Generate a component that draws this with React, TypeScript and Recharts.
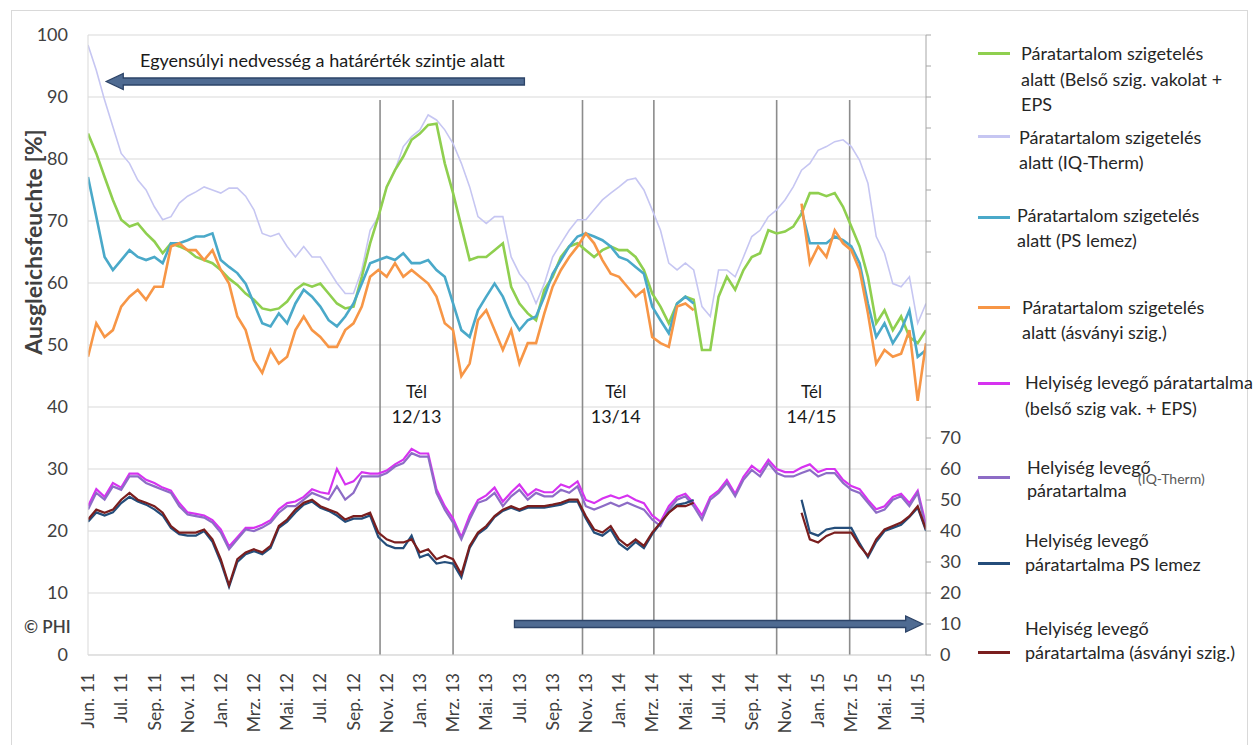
import {
  ComposedChart, Line, XAxis, YAxis, CartesianGrid, ReferenceLine,
} from 'recharts';

const FONT = 'Lato, "Open Sans", sans-serif';

// month offsets from Jun 2011 (half-month steps)
const MONTHS = [
  -1, -0.5, 0, 0.5, 1, 1.5, 2, 2.5, 3, 3.5,
  4, 4.5, 5, 5.5, 6, 6.5, 7, 7.5, 8, 8.5,
  9, 9.5, 10, 10.5, 11, 11.5, 12, 12.5, 13, 13.5,
  14, 14.5, 15, 15.5, 16, 16.5, 17, 17.5, 18, 18.5,
  19, 19.5, 20, 20.5, 21, 21.5, 22, 22.5, 23, 23.5,
  24, 24.5, 25, 25.5, 26, 26.5, 27, 27.5, 28, 28.5,
  29, 29.5, 30, 30.5, 31, 31.5, 32, 32.5, 33, 33.5,
  34, 34.5, 35, 35.5, 36, 36.5, 37, 37.5, 38, 38.5,
  39, 39.5, 40, 40.5, 41, 41.5, 42, 42.5, 43, 43.5,
  44, 44.5, 45, 45.5, 46, 46.5, 47, 47.5, 48, 48.5,
  49, 49.5,
];

const TICK_POS = [-1, 1, 3, 5, 7, 9, 11, 13, 15, 17, 19, 21, 23, 25, 27, 29, 31, 33, 35, 37, 39, 41, 43, 45, 47, 49];
const TICK_LABELS = [
  'Jun. 11', 'Jul. 11', 'Sep. 11', 'Nov. 11', 'Jan. 12', 'Mrz. 12', 'Mai. 12', 'Jul. 12', 'Sep. 12',
  'Nov. 12', 'Jan. 13', 'Mrz. 13', 'Mai. 13', 'Jul. 13', 'Sep. 13', 'Nov. 13', 'Jan. 14', 'Mrz. 14',
  'Mai. 14', 'Jul. 14', 'Sep. 14', 'Nov. 14', 'Jan. 15', 'Mrz. 15', 'Mai. 15', 'Jul. 15',
];
const LEFT_TICKS = [0, 10, 20, 30, 40, 50, 60, 70, 80, 90, 100];
const RIGHT_TICKS = [0, 10, 20, 30, 40, 50, 60, 70, 80, 90, 100, 110, 120, 130, 140, 150, 160, 170, 180, 190, 200];

// start / end of the heating seasons (vertical markers)
const WINTER_LINES = [16.6, 21.0, 28.8, 33.1, 40.5, 44.9];
const WINTER_LABELS = [
  { t: 18.8, name: 'Tél', years: '12/13' },
  { t: 30.8, name: 'Tél', years: '13/14' },
  { t: 42.6, name: 'Tél', years: '14/15' },
];

// moisture below the insulation, left axis [%]
const EPS_WALL = [
  84.1, 80.9, 77.1, 73.4, 70.2, 69.1, 69.6, 68, 66.7, 64.8,
  66.4, 65.9, 65.3, 64.2, 63.7, 63.2, 62.1, 60.7, 59.7, 58.3,
  57.3, 55.9, 55.6, 55.9, 57, 58.9, 59.9, 59.4, 59.9, 58.3,
  56.7, 55.9, 56.2, 61, 66.4, 70.7, 75.5, 78.2, 80.4, 83.1,
  84.1, 85.5, 85.7, 79.3, 74.5, 69.1, 63.7, 64.2, 64.2, 65.3,
  66.4, 59.4, 56.7, 55.1, 54, 58.9, 61, 64.2, 65.9, 66.4,
  65.3, 64.2, 65.3, 65.9, 65.3, 65.3, 64.2, 62.1, 58.3, 56.2,
  53.5, 56.7, 57.8, 57.3, 49.2, 49.2, 57.8, 61, 58.9, 62.1,
  64.2, 64.8, 68.5, 68, 68.3, 69.1, 71.2, 74.5, 74.5, 74,
  74.5, 72.3, 69.1, 65.9, 61, 53.5, 55.6, 52.4, 54.6, 51.3,
  50.3, 52.4,
];
const IQ_WALL = [
  98.4, 94.3, 89.5, 85.2, 80.9, 79.3, 76.6, 75, 72.3, 70.2,
  70.7, 72.9, 74, 74.7, 75.5, 75, 74.5, 75.3, 75.3, 74,
  71.8, 68, 67.5, 68, 65.9, 64.2, 65.9, 64.2, 64.2, 62.1,
  60, 58.3, 58.3, 62.1, 68.5, 70.7, 75.5, 78.2, 82, 83.6,
  84.7, 87.1, 86.3, 84.7, 82.5, 79.3, 75.5, 70.7, 69.6, 70.7,
  70.7, 64.2, 61.5, 59.9, 56.7, 59.9, 64.2, 66.4, 68.5, 70.2,
  70.2, 71.8, 73.4, 74.5, 75.5, 76.6, 76.9, 75, 71.8, 68.5,
  63.2, 62.1, 63.2, 62.1, 56.2, 54.6, 62.1, 62.1, 61, 64.2,
  67.5, 68.5, 70.7, 71.8, 73.4, 75.5, 78.2, 79.3, 81.4, 82,
  82.8, 83.1, 82, 79.8, 76.1, 67.5, 64.8, 59.9, 59.4, 61,
  53.5, 56.7,
];
const PS_WALL = [
  77.1, 70.7, 64.2, 62.1, 63.7, 65.3, 64.2, 63.7, 64.2, 63.2,
  66.4, 66.4, 66.9, 67.5, 67.5, 68, 63.7, 62.6, 61.6, 59.9,
  56.7, 53.5, 53, 55.1, 53.5, 56.7, 58.9, 57.8, 56.2, 54,
  53, 54.6, 56.7, 59.9, 63.2, 63.7, 64.2, 63.7, 64.8, 63.2,
  63.2, 63.7, 62.1, 61, 56.7, 52.4, 51.3, 55.6, 57.8, 59.9,
  57.8, 54.6, 52.4, 54, 54.6, 57.8, 61.5, 63.7, 65.9, 67.5,
  68, 67.5, 66.9, 65.9, 64.2, 63.7, 62.6, 61.5, 56.2, 54,
  51.9, 56.7, 57.8, 56.7, null, null, null, null, null, null,
  null, null, null, null, null, null, 71.8, 66.4, 66.4, 66.4,
  67.5, 66.9, 65.9, 63.2, 56.7, 51.3, 53.5, 50.3, 52.4, 55.6,
  48.1, 49.2,
];
const MIN_WALL = [
  48.1, 53.5, 51.3, 52.4, 56.2, 57.8, 58.9, 57.3, 59.4, 59.4,
  65.9, 66.4, 65.3, 65.3, 63.7, 65.3, 62.1, 59.9, 54.6, 52.4,
  47.6, 45.5, 49.2, 47, 48.1, 52.4, 54.6, 52.4, 51.3, 49.7,
  49.7, 52.4, 53.5, 56.2, 61, 62.1, 61, 63.2, 61, 62.1,
  61, 59.9, 57.8, 53.5, 52.4, 45, 47, 54, 55.6, 52.4,
  49.2, 52.4, 47, 50.3, 50.3, 55.1, 59.4, 62.1, 64.2, 65.9,
  68, 66.4, 63.7, 61.5, 61, 59.4, 57.8, 58.9, 51.3, 50.3,
  49.7, 56.2, 56.7, 55.6, null, null, null, null, null, null,
  null, null, null, null, null, null, 72.8, 63.2, 65.9, 64.2,
  68.5, 66.4, 65.3, 62.1, 55.1, 47, 49.2, 48.1, 48.6, 52.4,
  41, 50.3,
];

// room air humidity, right axis [%]
const EPS_ROOM = [
  48, 53.5, 51, 55.5, 54, 58.5, 58.5, 56.5, 55.5, 54,
  53, 49, 46, 45.5, 45, 43.5, 40.5, 35, 38, 41,
  41, 42, 43.5, 47, 49, 49.5, 51, 53.5, 52.5, 52,
  60, 55, 56, 59, 58.5, 58.5, 59.5, 61.5, 63, 66.5,
  65, 65, 53.5, 48, 44, 38, 45, 50, 51.5, 54,
  49.5, 52.5, 55, 51.5, 53.5, 52.5, 52.5, 55, 54, 56,
  50, 49, 50.5, 51.5, 50.5, 51.5, 50, 49, 45, 43,
  48, 51, 52, 49, 45, 51, 53, 56.5, 52, 57.5,
  61, 59, 63, 60, 59, 59, 60.5, 61.5, 59, 60,
  60, 56.5, 54.5, 53.5, 50, 47, 48, 51, 52, 49,
  53, 42,
];
const IQ_ROOM = [
  46.9, 52.3, 50.1, 54.4, 53.3, 57.6, 57.6, 55.5, 54.4, 53.3,
  52.3, 48, 45.3, 44.8, 44.3, 42.7, 39.5, 34.1, 37.3, 40.5,
  40, 41.1, 42.7, 45.9, 48, 48, 50.1, 52.3, 51.2, 50.1,
  54.4, 50.1, 52.3, 57.6, 57.6, 57.6, 58.7, 60.8, 61.9, 65.1,
  64, 64, 52.3, 46.9, 42.7, 37.3, 43.7, 49.1, 50.1, 52.3,
  48, 51.2, 53.3, 50.1, 52.3, 51.2, 51.2, 53.3, 52.3, 54.4,
  48, 46.9, 48, 49.1, 48, 49.1, 48, 46.9, 43.7, 41.6,
  46.9, 50.1, 51.2, 48, 43.7, 50.1, 52.3, 55.5, 51.2, 56.5,
  59.7, 57.6, 61.9, 58.7, 57.6, 57.6, 58.7, 59.7, 57.6, 58.7,
  58.7, 55.5, 53.3, 52.3, 49.1, 45.9, 46.9, 50.1, 51.2, 48,
  52.3, 40.5,
];
const PS_ROOM = [
  43, 46, 45, 46, 49, 51, 49.5, 48.5, 47, 45,
  41, 39, 38.5, 38.5, 40, 36.5, 30, 22, 30, 32.5,
  33.5, 32.5, 34.5, 41, 43, 46, 48.5, 49.5, 47.5, 46.5,
  45, 43, 44, 44, 45, 38, 35.5, 34.5, 34.5, 38.5,
  31.5, 32.5, 29.5, 30, 29.5, 25, 34.5, 39, 41, 44.5,
  46.5, 47.5, 46.5, 47.5, 47.5, 47.5, 48, 48.5, 49.5, 49.5,
  44, 39.5, 38.5, 40.5, 36, 34, 36.5, 34.5, 39, 42.5,
  46, 48.5, 49, 50, null, null, null, null, null, null,
  null, null, null, null, null, null, 50.1, 39.5, 38.5, 40.5,
  41, 41, 41, 36, 31.5, 36.5, 40, 41, 42, 44.5,
  47.5, 40,
];
const MIN_ROOM = [
  43.7, 46.9, 45.9, 46.9, 50.1, 52.3, 50.1, 49.1, 48, 45.9,
  41.6, 39.5, 39.5, 39.5, 40.5, 37.3, 30.9, 22.5, 30.9, 33.1,
  34.1, 33.1, 35.2, 41.6, 43.7, 46.9, 49.1, 50.1, 48, 46.9,
  45.9, 43.7, 44.8, 44.8, 45.9, 39.5, 37.3, 36.3, 36.3, 37.3,
  33.1, 34.1, 30.9, 32, 30.9, 26, 35.2, 39.5, 41.6, 44.8,
  46.9, 48, 46.9, 48, 48, 48, 48.5, 49.1, 50.1, 50.1,
  44.8, 40.5, 39.5, 41.6, 37.3, 35.2, 37.3, 35.2, 39.5, 42.7,
  45.9, 48, 48, 49.1, null, null, null, null, null, null,
  null, null, null, null, null, null, 45.9, 37.3, 36.3, 38.4,
  39.5, 39.5, 39.5, 35.2, 32, 37.3, 40.5, 41.6, 42.7, 44.8,
  48, 40.5,
];

const GREEN = '#8fcf4f';
const LAVENDER = '#c6c6f2';
const TEAL = '#4aa9c9';
const ORANGE = '#f79646';
const MAGENTA = '#d633f0';
const PURPLE = '#8d6cc6';
const NAVY = '#244d7a';
const MAROON = '#7a1e1e';

const rows = MONTHS.map((t, i) => ({
  t,
  epsWall: EPS_WALL[i], iqWall: IQ_WALL[i], psWall: PS_WALL[i], minWall: MIN_WALL[i],
  epsRoom: EPS_ROOM[i], iqRoom: IQ_ROOM[i], psRoom: PS_ROOM[i], minRoom: MIN_ROOM[i],
}));

const LEGEND = [
  { color: GREEN, lineY: 53, x: 1021, lines: [[53, 'Páratartalom szigetelés'], [79, 'alatt (Belső szig. vakolat +'], [104, 'EPS']] },
  { color: LAVENDER, lineY: 136, x: 1019, lines: [[137, 'Páratartalom szigetelés'], [162, 'alatt (IQ-Therm)']] },
  { color: TEAL, lineY: 217, x: 1017, lines: [[215, 'Páratartalom szigetelés'], [240, 'alatt (PS lemez)']] },
  { color: ORANGE, lineY: 307, x: 1022, lines: [[307, 'Páratartalom szigetelés'], [332, 'alatt (ásványi szig.)']] },
  { color: MAGENTA, lineY: 383, x: 1025, lines: [[382, 'Helyiség levegő páratartalma'], [408, '(belső szig vak. + EPS)']] },
  { color: PURPLE, lineY: 477, x: 1027, lines: [[467, 'Helyiség levegő'], [490, 'páratartalma']] },
  { color: NAVY, lineY: 563, x: 1025, lines: [[540, 'Helyiség levegő'], [564, 'páratartalma PS lemez']] },
  { color: MAROON, lineY: 652, x: 1025, lines: [[628, 'Helyiség levegő'], [652, 'páratartalma (ásványi szig.)']] },
];

function MonthTick({ x, y, payload }: any) {
  const label = TICK_LABELS[TICK_POS.indexOf(payload.value)] ?? '';
  return (
    <text x={x} y={y} transform={`rotate(-90, ${x}, ${y})`} textAnchor="end" dy="0.35em"
      fontSize={17.5} fill="#404040" fontFamily={FONT}>{label}</text>
  );
}

// block arrow drawn along a reference segment, head at the segment's end
function BlockArrow(props: any) {
  const { x1, y1, x2 } = props;
  if (x1 == null) return null;
  const dir = x2 > x1 ? 1 : -1;
  const xb = x2 - dir * 17;
  const pts = [
    [x1, y1 - 3.5], [xb, y1 - 3.5], [xb, y1 - 8], [x2, y1],
    [xb, y1 + 8], [xb, y1 + 3.5], [x1, y1 + 3.5],
  ];
  return <polygon points={pts.map(p => p.join(',')).join(' ')} fill="#4f6b92" stroke="#2d4468" strokeWidth={1.3} />;
}

const lineCommon = { type: 'linear' as const, dot: false, activeDot: false, isAnimationActive: false, connectNulls: false };

export default function App() {
  return (
    <div style={{ position: 'fixed', left: 0, top: 0, width: 1257, height: 745, background: '#fff', overflow: 'hidden', fontFamily: FONT }}>
      <div style={{ position: 'absolute', left: 11, top: 10, width: 1235, height: 760, border: '1px solid #d9d9d9' }} />

      <div style={{ position: 'absolute', left: 0, top: 0 }}>
        <ComposedChart width={1000} height={745} data={rows} margin={{ top: 35, right: 14, left: 28, bottom: 0 }}>
          <CartesianGrid yAxisId="left" vertical={false} stroke="#d9d9d9" />
          <XAxis dataKey="t" type="number" domain={[-1, 49.5]} ticks={TICK_POS} interval={0}
            tick={<MonthTick />} tickLine={false} tickSize={0} tickMargin={18} height={90}
            axisLine={{ stroke: '#d9d9d9' }} allowDataOverflow />
          <YAxis yAxisId="left" domain={[0, 100]} ticks={LEFT_TICKS} interval={0} width={60}
            tickLine={false} tickSize={0} tickMargin={20} axisLine={{ stroke: '#d9d9d9' }}
            tick={{ fontSize: 18, fill: '#404040', fontFamily: FONT }} />
          <YAxis yAxisId="right" orientation="right" domain={[0, 200]} ticks={RIGHT_TICKS} interval={0} width={60}
            tickSize={5} tickMargin={9} tickLine={{ stroke: '#a6a6a6' }} axisLine={{ stroke: '#a6a6a6' }}
            tickFormatter={(v: number) => (v <= 70 ? String(v) : '')}
            tick={{ fontSize: 18, fill: '#404040', fontFamily: FONT, textAnchor: 'start' }} />

          {WINTER_LINES.map(t => (
            <ReferenceLine key={t} yAxisId="left" segment={[{ x: t, y: 0 }, { x: t, y: 89.5 }]}
              stroke="#8c8c8c" strokeWidth={1.6} />
          ))}

          <Line {...lineCommon} yAxisId="left" dataKey="iqWall" stroke={LAVENDER} strokeWidth={1.6} />
          <Line {...lineCommon} yAxisId="left" dataKey="epsWall" stroke={GREEN} strokeWidth={2.6} />
          <Line {...lineCommon} yAxisId="left" dataKey="psWall" stroke={TEAL} strokeWidth={2.6} />
          <Line {...lineCommon} yAxisId="left" dataKey="minWall" stroke={ORANGE} strokeWidth={2.6} />

          <Line {...lineCommon} yAxisId="right" dataKey="epsRoom" stroke={MAGENTA} strokeWidth={2.2} />
          <Line {...lineCommon} yAxisId="right" dataKey="iqRoom" stroke={PURPLE} strokeWidth={2.2} />
          <Line {...lineCommon} yAxisId="right" dataKey="psRoom" stroke={NAVY} strokeWidth={2.2} />
          <Line {...lineCommon} yAxisId="right" dataKey="minRoom" stroke={MAROON} strokeWidth={2.2} />

          <ReferenceLine yAxisId="left" segment={[{ x: 25.3, y: 92.5 }, { x: 0.1, y: 92.5 }]} shape={BlockArrow} />
          <ReferenceLine yAxisId="right" segment={[{ x: 24.7, y: 10 }, { x: 49.3, y: 10 }]} shape={BlockArrow} />
        </ComposedChart>
      </div>

      <div style={{ position: 'absolute', left: 33, top: 242, width: 0, height: 0 }}>
        <div style={{ position: 'absolute', left: -150, top: -14, width: 300, height: 28, lineHeight: '28px', textAlign: 'center',
          transform: 'rotate(-90deg)', fontWeight: 700, fontSize: 23, color: '#404040', whiteSpace: 'nowrap' }}>
          Ausgleichsfeuchte [%]
        </div>
      </div>

      <div style={{ position: 'absolute', left: 140, top: 49, fontSize: 18, color: '#1a1a1a', whiteSpace: 'nowrap' }}>
        Egyensúlyi nedvesség a határérték szintje alatt
      </div>
      <div style={{ position: 'absolute', left: 24, top: 616, fontSize: 17, color: '#404040', fontWeight: 600 }}>© PHI</div>

      {WINTER_LABELS.map(w => {
        const cx = 88 + (w.t + 1) * (838 / 50.5);
        return (
          <div key={w.years} style={{ position: 'absolute', left: cx - 45, top: 380, width: 90, textAlign: 'center', fontSize: 18, color: '#1a1a1a', lineHeight: '24px' }}>
            <div style={{ fontSize: 17 }}>{w.name}</div>
            <div>{w.years}</div>
          </div>
        );
      })}

      {LEGEND.map((e, i) => (
        <div key={i}>
          <div style={{ position: 'absolute', left: 978, top: e.lineY - 1, width: 32, height: 2.5, background: e.color }} />
          {e.lines.map(([y, txt]) => (
            <div key={txt as string} style={{ position: 'absolute', left: e.x, top: (y as number) - 12, height: 24, lineHeight: '24px',
              fontSize: 18, color: '#262626', whiteSpace: 'nowrap' }}>{txt}</div>
          ))}
        </div>
      ))}
      <div style={{ position: 'absolute', left: 1138, top: 470, fontSize: 14, color: '#595959', whiteSpace: 'nowrap' }}>(IQ-Therm)</div>
    </div>
  );
}
